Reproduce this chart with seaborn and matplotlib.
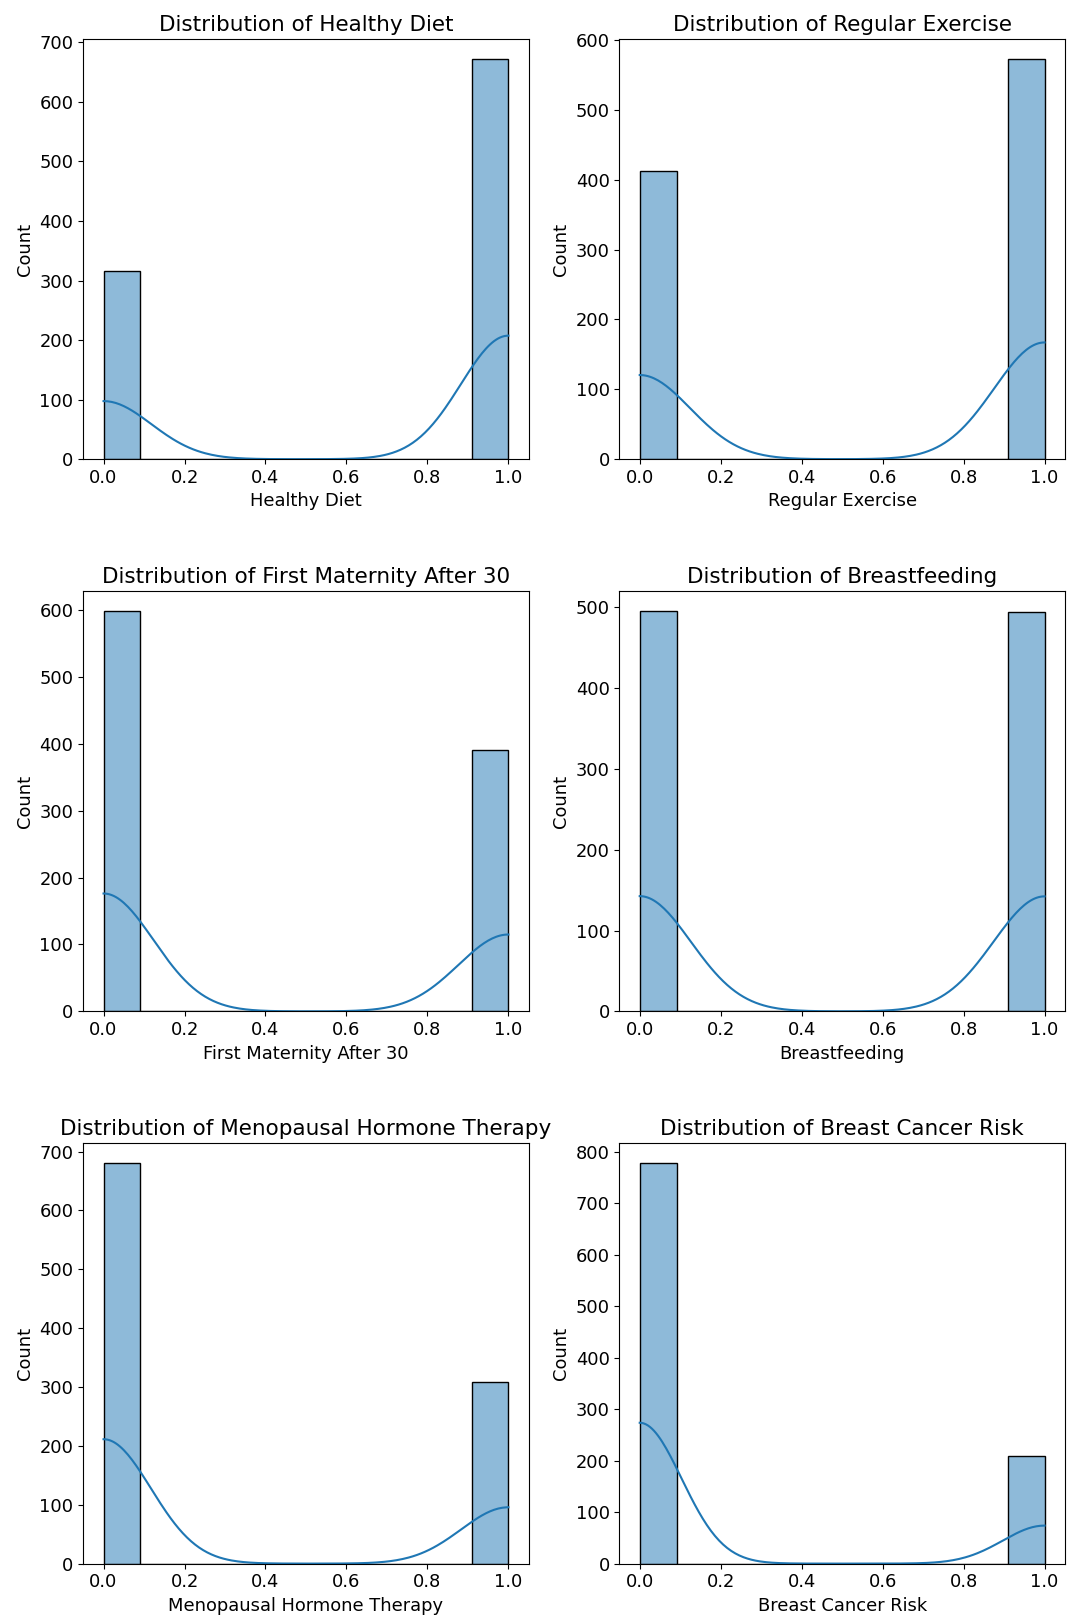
import numpy as np
import pandas as pd
import seaborn as sns
import matplotlib
matplotlib.use("Agg")
import matplotlib.pyplot as plt

# binary features, counts (value 0, value 1)
FEATURES = [
    "Healthy Diet",
    "Regular Exercise",
    "First Maternity After 30",
    "Breastfeeding",
    "Menopausal Hormone Therapy",
    "Breast Cancer Risk",
]
COUNT_0 = [316, 413, 598, 495, 680, 778]
COUNT_1 = [672, 573, 390, 494, 308, 210]


def build_frame():
    cols = {}
    for name, n0, n1 in zip(FEATURES, COUNT_0, COUNT_1):
        cols[name] = pd.Series(np.repeat([0, 1], [n0, n1]))
    return pd.DataFrame(cols)


df = build_frame()

fig, axes = plt.subplots(3, 2, figsize=(10.68, 16.22), dpi=100)
fig.subplots_adjust(left=0.078, right=0.997, top=0.976, bottom=0.036,
                    wspace=0.204, hspace=0.314)

for ax, name in zip(axes.flat, FEATURES):
    sns.histplot(data=df, x=name, kde=True, bins=11, ax=ax)
    ax.set_title(f"Distribution of {name}", fontsize=15.5)
    ax.tick_params(labelsize=12.9)
    ax.set_xlabel(name, fontsize=12.9)
    ax.set_ylabel("Count", fontsize=12.9)

plt.savefig("out.png")
